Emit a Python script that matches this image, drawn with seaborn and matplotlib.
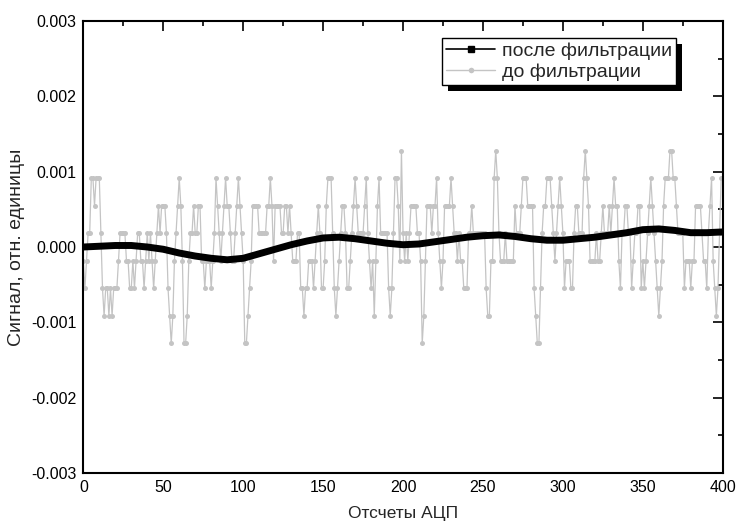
import numpy as np
import pandas as pd
import matplotlib
matplotlib.use("Agg")
import matplotlib.pyplot as plt
from matplotlib.lines import Line2D
from matplotlib.patches import Rectangle
from matplotlib.ticker import MultipleLocator
import seaborn as sns

# ---- data ----
# raw ADC signal: quantisation level index per sample (0..400)
raw_levels = [
    -1, -2, -1, 0, 0, 2, 2, 1, 2, 2, 2, 0, -2, -3, -2, -2, -3, -2, -3, -2,
    -2, -2, -1, 0, 0, 0, 0, -1, -1, -2, -2, -1, -2, -1, 0, 0, -1, -1, -2, -1,
    0, -1, 0, -1, -2, -1, 0, 1, 0, 1,
    1, 1, 0, -2, -3, -4, -3, -1, 0, 1, 2, 1, -1, -4, -4, -3, -1, 0, 0, 1,
    0, 0, 1, 1, -1, -1, -2, -1, -1, -1, -2, -1, 0, 2, 1, 0, -1, 0, 1, 2,
    1, 1, 0, -1, -1, 0, 1, 2, 1, 0,
    -1, -4, -4, -3, -2, -1, 1, 1, 1, 1, 0, 0, 0, 0, 0, 1, 1, 2, 1, -1,
    1, 1, 1, 1, 0, 0, 1, 1, 0, 1, 0, -1, -1, -1, 0, 0, -2, -2, -3, -2,
    -2, -1, -1, -1, -2, -1, 0, 1, 0, -2,
    -2, -1, 1, 2, 2, 2, 0, -2, -3, -2, -1, 0, 1, 1, 0, -2, -2, -1, 0, 1,
    2, 1, 0, 0, 0, 0, 1, 2, 0, -1, -2, -1, -3, -1, 1, 2, 0, 0, 0, 0,
    0, -2, -3, -2, 0, 2, 2, 1, -1, 3,
    0, -1, 0, -1, 0, 1, 1, 1, 1, 0, 0, -1, -4, -3, -1, 1, 1, 1, 0, 1,
    1, 2, 0, -1, -2, -1, 1, 1, 1, 1, 2, 1, 0, 0, -1, 0, -1, -1, -2, -2,
    -2, 0, 0, 1, 0, 0, 0, 0, 0, 0,
    0, 0, -2, -3, -3, -1, -1, 2, 3, 2, 0, -1, -1, -1, 0, -1, -1, -1, -1, -1,
    1, 0, 0, 0, 1, 2, 2, 2, 1, 1, 1, 1, -2, -3, -4, -4, -2, 0, 1, 1,
    2, 2, 2, 1, 0, -1, 0, 1, 2, 1,
    0, -2, -1, -1, -1, -2, -2, 0, 1, 1, 0, 0, 0, 2, 3, 2, 1, -1, -1, -1,
    -1, 0, -1, -1, 0, 1, 0, 0, 0, 1, 0, 1, 2, 1, 1, -1, -2, 0, 0, 1,
    1, 0, 0, -2, -1, 0, 0, 1, 1, -2,
    -1, -2, -1, 0, 1, 2, 1, 0, -1, -2, -3, -2, -1, 1, 2, 2, 2, 3, 3, 2,
    2, 1, 0, 0, 0, 0, -2, -1, -1, -1, -2, -1, -1, 1, 1, 1, 1, 0, -1, -1,
    -2, 0, 1, 2, -1, -2, -3, -2, 0, 2, 2,
]
adc_step = 0.000366  # one ADC count, relative units

# filtered signal, read every 10 samples
filt_x = [0, 10, 20, 30, 40, 50, 60, 70, 80, 90, 100, 110, 120, 130, 140,
          150, 160, 170, 180, 190, 200, 210, 220, 230, 240, 250, 260, 270,
          280, 290, 300, 310, 320, 330, 340, 350, 360, 370, 380, 390, 400]
filt_y = [0.00000, 0.00001, 0.00002, 0.00002, 0.00000, -0.00003, -0.00008,
          -0.00012, -0.00015, -0.00017, -0.00015, -0.00009, -0.00003,
          0.00003, 0.00008, 0.00012, 0.00013, 0.00011, 0.00008, 0.00005,
          0.00003, 0.00004, 0.00007, 0.00010, 0.00013, 0.00015, 0.00016,
          0.00014, 0.00011, 0.00009, 0.00009, 0.00011, 0.00013, 0.00016,
          0.00019, 0.00023, 0.00024, 0.00022, 0.00019, 0.00019, 0.00020]

x_ticks = [0, 50, 100, 150, 200, 250, 300, 350, 400]
y_ticks = [-0.003, -0.002, -0.001, 0.0, 0.001, 0.002, 0.003]
y_tick_labels = ["-0.003", "-0.002", "-0.001", "0.000", "0.001", "0.002", "0.003"]

label_after = "после фильтрации"
label_before = "до фильтрации"
x_label = "Отсчеты АЦП"
y_label = "Сигнал, отн. единицы"

# ---- build tables ----
raw_df = pd.DataFrame({
    "x": np.arange(len(raw_levels)),
    "y": (np.array(raw_levels) + 0.5) * adc_step,
})
filt_df = pd.DataFrame({"x": filt_x, "y": filt_y})

# ---- style ----
sns.set_style("white")
plt.rcParams["font.family"] = ["Liberation Sans", "DejaVu Sans"]
plt.rcParams["axes.unicode_minus"] = False

fig = plt.figure(figsize=(7.36, 5.28), dpi=100)
ax = fig.add_axes([0.1132, 0.1042, 0.8688, 0.8560])

gray = "#c4c4c4"
sns.lineplot(data=raw_df, x="x", y="y", ax=ax, color=gray, linewidth=0.9,
             marker="o", markersize=3.6, markeredgewidth=0,
             markeredgecolor=gray, markerfacecolor=gray, zorder=2)
sns.lineplot(data=filt_df, x="x", y="y", ax=ax, color="black", linewidth=5.0,
             zorder=3, solid_capstyle="butt")

ax.set_xlim(0, 400)
ax.set_ylim(-0.003, 0.003)
ax.set_xticks(x_ticks)
ax.set_xticklabels([str(t) for t in x_ticks])
ax.set_yticks(y_ticks)
ax.set_yticklabels(y_tick_labels)
ax.xaxis.set_minor_locator(MultipleLocator(25))
ax.yaxis.set_minor_locator(MultipleLocator(0.0005))

ax.tick_params(which="both", direction="in", top=True, right=True,
               color="black", width=1.2)
ax.tick_params(which="major", length=7, labelsize=11.5, pad=5,
               labelcolor="black")
ax.tick_params(which="minor", length=3.5)
for s in ax.spines.values():
    s.set_color("black")
    s.set_linewidth(1.5)

ax.set_xlabel(x_label, fontsize=12.5, labelpad=8)
ax.set_ylabel(y_label, fontsize=14, labelpad=4)

handles = [
    Line2D([], [], color="black", linewidth=1.2, marker="s", markersize=4),
    Line2D([], [], color=gray, linewidth=1.0, marker="o", markersize=4,
           markeredgewidth=0),
]
leg = ax.legend(handles, [label_after, label_before], loc="upper right",
                bbox_to_anchor=(0.927, 0.963), borderaxespad=0,
                fancybox=False, framealpha=1, edgecolor="black",
                fontsize=14, handlelength=2.5, handletextpad=0.35,
                labelspacing=0.2, borderpad=0.22)
leg.get_frame().set_linewidth(1.0)
leg.set_zorder(6)

# black drop shadow behind legend
fig.canvas.draw()
bb = leg.get_window_extent()
inv = ax.transAxes.inverted()
(x0, y0) = inv.transform((bb.x0 + 6, bb.y0 - 6))
(x1, y1) = inv.transform((bb.x1 + 6, bb.y1 - 6))
ax.add_patch(Rectangle((x0, y0), x1 - x0, y1 - y0, transform=ax.transAxes,
                       facecolor="black", edgecolor="none", zorder=5.5,
                       clip_on=False))

fig.savefig("out.png", dpi=100)
